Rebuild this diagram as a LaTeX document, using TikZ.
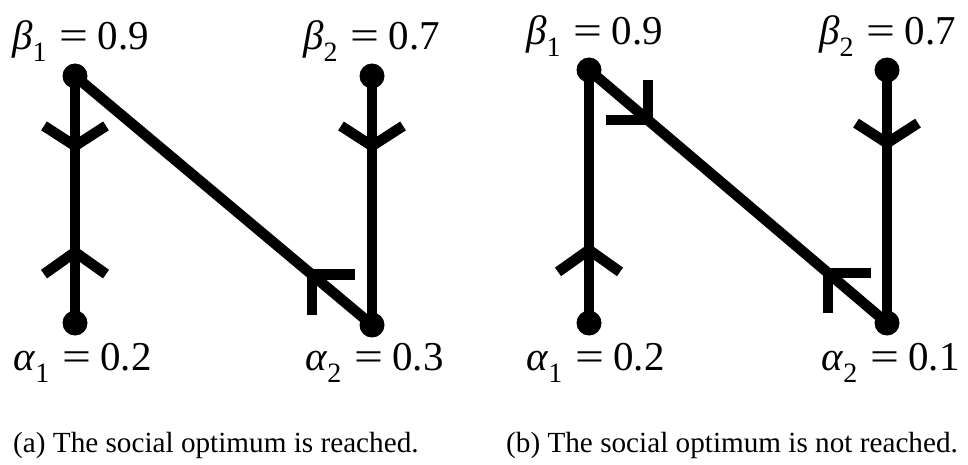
\documentclass[tikz,border=0pt]{standalone}
\usepackage{graphicx}
\usepackage{fontspec}
\setmainfont{Liberation Serif}
\newcommand{\glab}[3]{\textit{#1}\raisebox{-12pt}{\fontsize{28}{28}\selectfont #2}\hspace{13pt}\scalebox{1.25}[1]{=}\hspace{9pt}#3}
\tikzset{
  dot/.style={circle,fill=black,inner sep=0pt,minimum size=25pt},
  edge/.style={line width=10.5pt,line cap=butt},
  chev/.style={line width=10.5pt,line cap=butt,line join=miter},
  lbl/.style={anchor=base west,inner sep=0pt,font=\fontsize{41}{44}\selectfont},
  captext/.style={anchor=base west,inner sep=0pt,font=\fontsize{29.2}{32}\selectfont}
}
\begin{document}
\begin{tikzpicture}[x=1pt,y=-1pt]
\useasboundingbox (0,0) rectangle (968,465);
% ---- panel (a)
\node[dot] (ab1) at (75,76) {};
\node[dot] (aa1) at (75,323) {};
\node[dot] (ab2) at (372,76) {};
\node[dot] (aa2) at (372,325) {};
\draw[edge] (ab1.center) -- coordinate[pos=0.283] (am1) coordinate[pos=0.713] (am2) (aa1.center);
\draw[edge] (ab2.center) -- coordinate[pos=0.281] (am3) (aa2.center);
\draw[edge] (ab1.center) -- coordinate[pos=0.798] (am4) (aa2.center);
\draw[chev] (am1) ++(-31,-20) -- (am1) -- ++(31,-20);
\draw[chev] (am2) ++(-31,22) -- (am2) -- ++(31,22);
\draw[chev] (am3) ++(-31,-20) -- (am3) -- ++(31,-20);
\draw[chev] (am4) ++(43,0) -- (am4) -- ++(0,40);
\node[lbl] (lab1) at (12,50) {\glab{β}{1}{0.9}};
\node[lbl] (lab2) at (303,50) {\glab{β}{2}{0.7}};
\node[lbl] (laa1) at (13,370) {\glab{α}{1}{0.2}};
\node[lbl] (laa2) at (305,370) {\glab{α}{2}{0.3}};
\node[captext] (capa) at (13,452) {(a) The social optimum is reached.};
% ---- panel (b)
\node[dot] (bb1) at (589,70) {};
\node[dot] (ba1) at (589,323) {};
\node[dot] (bb2) at (887,70) {};
\node[dot] (ba2) at (887,323) {};
\draw[edge] (bb1.center) -- coordinate[pos=0.711] (bm1) (ba1.center);
\draw[edge] (bb2.center) -- coordinate[pos=0.289] (bm2) (ba2.center);
\draw[edge] (bb1.center) -- coordinate[pos=0.198] (bm3) coordinate[pos=0.802] (bm4) (ba2.center);
\draw[chev] (bm1) ++(-31,22) -- (bm1) -- ++(31,22);
\draw[chev] (bm2) ++(-31,-20) -- (bm2) -- ++(31,-20);
\draw[chev] (bm3) ++(-42,0) -- (bm3) -- ++(0,-40);
\draw[chev] (bm4) ++(43,0) -- (bm4) -- ++(0,40);
\node[lbl] (lbb1) at (526,45) {\glab{β}{1}{0.9}};
\node[lbl] (lbb2) at (819,45) {\glab{β}{2}{0.7}};
\node[lbl] (lba1) at (526,370) {\glab{α}{1}{0.2}};
\node[lbl] (lba2) at (821,370) {\glab{α}{2}{0.1}};
\node[captext] (capb) at (506,452) {(b) The social optimum is not reached.};
\end{tikzpicture}
\end{document}
